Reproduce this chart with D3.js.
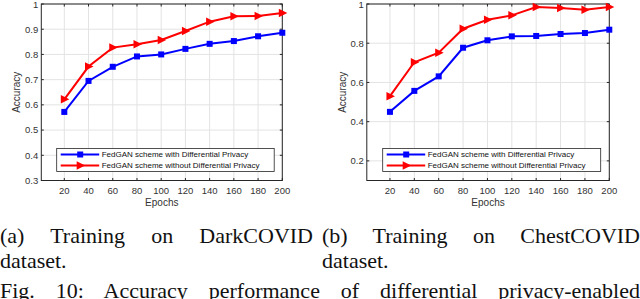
<!doctype html>
<html lang="en">
<head>
<meta charset="UTF-8" />
<title>FedGAN accuracy</title>
<script src="https://d3js.org/d3.v7.min.js"></script>
<style>
  html,body{margin:0;padding:0;background:#fff;overflow:hidden;}
  #wrap{position:relative;width:640px;height:299px;overflow:hidden;}
  svg{position:absolute;left:0;top:0;}
  .cap{position:absolute;font-family:"Liberation Serif","Times New Roman",serif;font-size:22px;
       line-height:25px;text-align:justify;color:#111;}
  .cap.full{text-align-last:justify;white-space:nowrap;}
  .tick-label{font-family:"Liberation Sans",Arial,sans-serif;font-size:9.5px;fill:#333;}
  .ax-label{font-family:"Liberation Sans",Arial,sans-serif;font-size:10px;fill:#333;}
  .leg-text{font-family:"Liberation Sans",Arial,sans-serif;font-size:8px;fill:#111;}
</style>
</head>
<body>
<div id="wrap"></div>
<script>
/* ── data ── */
const epochs = [20, 40, 60, 80, 100, 120, 140, 160, 180, 200];
const xTicks = [20, 40, 60, 80, 100, 120, 140, 160, 180, 200];

const darkWithDP    = [0.572, 0.695, 0.751, 0.792, 0.800, 0.822, 0.842, 0.853, 0.872, 0.886];
const darkWithoutDP = [0.622, 0.752, 0.827, 0.840, 0.857, 0.893, 0.930, 0.951, 0.952, 0.964];
const darkYTicks    = [0.3, 0.4, 0.5, 0.6, 0.7, 0.8, 0.9, 1];

const chestWithDP    = [0.450, 0.557, 0.631, 0.777, 0.815, 0.835, 0.837, 0.847, 0.852, 0.869];
const chestWithoutDP = [0.530, 0.703, 0.752, 0.874, 0.920, 0.942, 0.985, 0.980, 0.971, 0.985];
const chestYTicks    = [0.2, 0.4, 0.6, 0.8, 1];

const legendLabels = ['FedGAN scheme with Differential Privacy',
                      'FedGAN scheme without Differential Privacy'];
const captions = ['(a) Training on DarkCOVID dataset.',
                  '(b) Training on ChestCOVID dataset.'];
const figCaption = 'Fig. 10: Accuracy performance of differential privacy-enabled';

/* ── layout ── */
const W = 640, H = 299;
const BLUE = '#0000ff', RED = '#ff0000', AX = '#262626', GRID = '#e3e3e3';

const wrap = d3.select('#wrap');
const svg = wrap.append('svg').attr('width', W).attr('height', H);

function fmt(v){ return v === 1 ? '1' : d3.format('.1f')(v); }

function trianglePath(cx, cy, s){
  return `M${cx + s},${cy}L${cx - s * 0.7},${cy - s * 0.85}L${cx - s * 0.7},${cy + s * 0.85}Z`;
}

function drawPanel(cfg){
  const x = d3.scaleLinear().domain([1, 200]).range(cfg.xRange);
  const y = d3.scaleLinear().domain(cfg.yDomain).range([180.5, 4]);
  const g = svg.append('g');
  const [x0, x1] = cfg.xRange, y0 = 180.5, y1 = 4;

  // grid
  g.selectAll('.vg').data(xTicks).join('line')
    .attr('x1', d => x(d)).attr('x2', d => x(d)).attr('y1', y0).attr('y2', y1)
    .attr('stroke', GRID).attr('stroke-width', 1);
  g.selectAll('.hg').data(cfg.yTicks).join('line')
    .attr('x1', x0).attr('x2', x1).attr('y1', d => y(d)).attr('y2', d => y(d))
    .attr('stroke', GRID).attr('stroke-width', 1);

  // box
  g.append('rect').attr('x', x0).attr('y', y1).attr('width', x1 - x0).attr('height', y0 - y1)
    .attr('fill', 'none').attr('stroke', AX).attr('stroke-width', 1);

  // inward ticks on all sides
  const tk = 2.5;
  xTicks.forEach(d => {
    g.append('line').attr('x1', x(d)).attr('x2', x(d)).attr('y1', y0).attr('y2', y0 - tk).attr('stroke', AX);
    g.append('line').attr('x1', x(d)).attr('x2', x(d)).attr('y1', y1).attr('y2', y1 + tk).attr('stroke', AX);
    g.append('text').attr('class', 'tick-label').attr('x', x(d)).attr('y', 193.5)
      .attr('text-anchor', 'middle').text(d);
  });
  cfg.yTicks.forEach(d => {
    g.append('line').attr('x1', x0).attr('x2', x0 + tk).attr('y1', y(d)).attr('y2', y(d)).attr('stroke', AX);
    g.append('line').attr('x1', x1).attr('x2', x1 - tk).attr('y1', y(d)).attr('y2', y(d)).attr('stroke', AX);
    g.append('text').attr('class', 'tick-label').attr('x', x0 - 3).attr('y', Math.max(y(d) + 3.3, 8))
      .attr('text-anchor', 'end').text(fmt(d));
  });

  // axis labels
  g.append('text').attr('class', 'ax-label')
    .attr('transform', `translate(${x0 - 21},${(y0 + y1) / 2}) rotate(-90)`)
    .attr('text-anchor', 'middle').text('Accuracy');
  g.append('text').attr('class', 'ax-label')
    .attr('x', (x0 + x1) / 2).attr('y', 206).attr('text-anchor', 'middle').text('Epochs');

  // series
  const line = d3.line().x((d, i) => x(epochs[i])).y(d => y(d));
  g.append('path').attr('d', line(cfg.withDP)).attr('fill', 'none')
    .attr('stroke', BLUE).attr('stroke-width', 2);
  g.append('path').attr('d', line(cfg.withoutDP)).attr('fill', 'none')
    .attr('stroke', RED).attr('stroke-width', 2);
  g.selectAll('.sq').data(cfg.withDP).join('rect')
    .attr('x', (d, i) => x(epochs[i]) - 3).attr('y', d => y(d) - 3)
    .attr('width', 6).attr('height', 6).attr('fill', BLUE);
  g.selectAll('.tri').data(cfg.withoutDP).join('path')
    .attr('d', (d, i) => trianglePath(x(epochs[i]), y(d), 5)).attr('fill', RED);

  // legend
  const lx = cfg.legend[0], lw = cfg.legend[1];
  const lg = g.append('g');
  lg.append('rect').attr('x', lx).attr('y', 148.5).attr('width', lw).attr('height', 23)
    .attr('fill', '#fff').attr('stroke', AX).attr('stroke-width', 0.8);
  [[BLUE, 154.5], [RED, 165.5]].forEach(([c, ly], i) => {
    lg.append('line').attr('x1', lx + 4).attr('x2', lx + 42.5).attr('y1', ly).attr('y2', ly)
      .attr('stroke', c).attr('stroke-width', 2);
    if (i === 0) lg.append('rect').attr('x', lx + 20.5).attr('y', ly - 3).attr('width', 6).attr('height', 6).attr('fill', c);
    else lg.append('path').attr('d', trianglePath(lx + 23.5, ly, 5)).attr('fill', c);
    lg.append('text').attr('class', 'leg-text').attr('x', lx + 45).attr('y', ly + 2.8).text(legendLabels[i]);
  });
}

drawPanel({xRange: [41.3, 282.3], yDomain: [0.3, 1], yTicks: darkYTicks,
           withDP: darkWithDP, withoutDP: darkWithoutDP, legend: [56.7, 217.5]});
drawPanel({xRange: [366.8, 609.3], yDomain: [0.1, 1], yTicks: chestYTicks,
           withDP: chestWithDP, withoutDP: chestWithoutDP, legend: [382.7, 218]});

/* ── captions ── */
wrap.append('div').attr('class', 'cap').style('left', '0px').style('top', '223px')
  .style('width', '313px').text(captions[0]);
wrap.append('div').attr('class', 'cap').style('left', '322px').style('top', '223px')
  .style('width', '318px').text(captions[1]);
wrap.append('div').attr('class', 'cap full').style('left', '0px').style('top', '278px')
  .style('width', '640px').text(figCaption);
</script>
</body>
</html>
